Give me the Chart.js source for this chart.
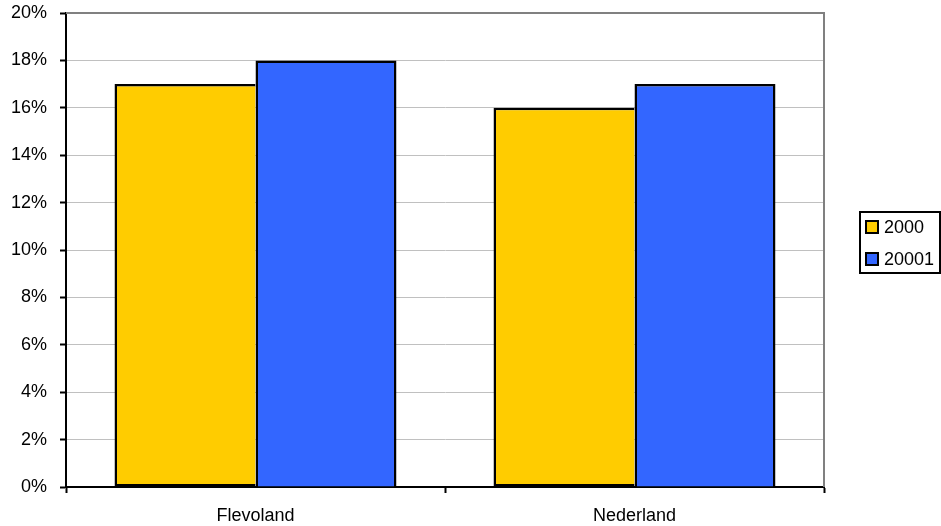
<!DOCTYPE html>
<html><head><meta charset="utf-8">
<script src="https://cdn.jsdelivr.net/npm/chart.js@4/dist/chart.umd.min.js"></script>
<style>html,body{margin:0;padding:0;background:#fff}#w{width:941px;height:526px}</style>
</head><body><div id="w"><canvas id="c" width="941" height="526"></canvas></div>
<script>
const categories = ['Flevoland', 'Nederland'];
const seriesNames = ['2000', '20001'];
const series2000 = [17, 16];
const series20001 = [18, 17];
const yTicks = [0, 2, 4, 6, 8, 10, 12, 14, 16, 18, 20];
const colors = ['#FFCC00', '#3366FF'];

const FONT = {family: 'Liberation Sans, Arial, sans-serif', size: 18};

const frame = {
  id: 'frame',
  afterDatasetsDraw(chart) {
    const {ctx, chartArea: a} = chart;
    ctx.save();
    ctx.strokeStyle = '#808080'; ctx.lineWidth = 2;
    ctx.beginPath();
    ctx.moveTo(a.left, a.top); ctx.lineTo(a.right, a.top); ctx.lineTo(a.right, a.bottom);
    ctx.stroke();
    ctx.restore();
  },
  afterDraw(chart) {
    const ctx = chart.ctx;
    ctx.save();
    const x = 860, y = 212, w = 80, h = 61;
    ctx.strokeStyle = '#000'; ctx.lineWidth = 2;
    ctx.strokeRect(x, y, w, h);
    ctx.font = '18px ' + FONT.family;
    ctx.textBaseline = 'middle';
    chart.data.datasets.forEach((ds, i) => {
      const cy = 227 + i * 32;
      ctx.fillStyle = ds.backgroundColor;
      ctx.fillRect(866, cy - 6, 12, 12);
      ctx.lineWidth = 2; ctx.strokeStyle = '#000';
      ctx.strokeRect(866, cy - 6, 12, 12);
      ctx.fillStyle = '#000';
      ctx.fillText(ds.label, 884, cy + 1);
    });
    ctx.restore();
  }
};

new Chart(document.getElementById('c'), {
  type: 'bar',
  data: {
    labels: categories,
    datasets: [
      {label: seriesNames[0], data: series2000, backgroundColor: colors[0], borderColor: '#000', borderWidth: 2.5, borderSkipped: 'right'},
      {label: seriesNames[1], data: series20001, backgroundColor: colors[1], borderColor: '#000', borderWidth: 2.5}
    ]
  },
  options: {
    responsive: false,
    animation: false,
    devicePixelRatio: 1,
    layout: {padding: {left: 0, top: 13, right: 117, bottom: 0}},
    plugins: {legend: {display: false}, tooltip: {enabled: false}},
    datasets: {bar: {barPercentage: 1, categoryPercentage: 0.744}},
    scales: {
      x: {
        offset: true,
        grid: {offset: true, drawOnChartArea: false, tickLength: 6, tickColor: '#000', tickWidth: 2},
        border: {color: '#000', width: 2},
        ticks: {color: '#000', font: FONT, padding: 12},
        afterFit(s) { s.height = 39; s.paddingLeft = 0; s.paddingRight = 0; }
      },
      y: {
        min: 0, max: 20,
        afterBuildTicks(s) { s.ticks = yTicks.map(v => ({value: v})); },
        grid: {color: '#c0c0c0', lineWidth: 1, tickLength: 6, tickColor: '#000', tickWidth: 2},
        border: {color: '#000', width: 2},
        ticks: {color: '#000', font: FONT, padding: 13, callback: v => v + '%'},
        afterFit(s) { s.width = 66; s.paddingTop = 0; s.paddingBottom = 0; }
      }
    }
  },
  plugins: [frame]
});
</script>
</body></html>
